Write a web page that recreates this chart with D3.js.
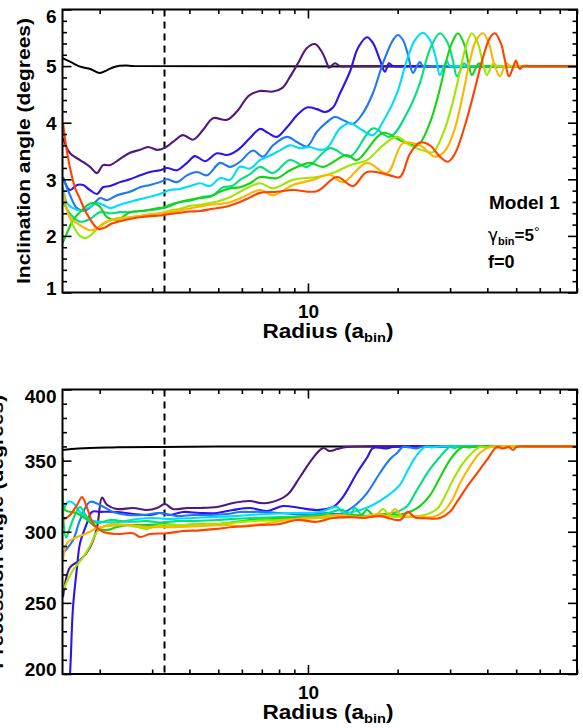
<!DOCTYPE html>
<html><head><meta charset="utf-8">
<script src="https://cdn.jsdelivr.net/npm/d3@7"></script>
<style>body{margin:0;background:#fff}svg{display:block}</style>
</head><body>
<script>
// ---------- DATA ----------
const seriesNames = ["black","purple","blue","dodger","cyan","spring","green","yellowgreen","orange","red"];
const seriesColors = ["#000000","#52167f","#2c14f0","#1f78f5","#00dcff","#00e07c","#14d414","#a0e600","#ffb400","#ff4200"];
const dashedRadius = 3.3;
const xMajorTicks = [10];
const xMinorTicks = [2,3,4,5,6,7,8,9,20,30,40,50,60,70,80];
const incMajorTicks = [1,2,3,4,5,6];
const precMajorTicks = [200,250,300,350,400];

// Inclination (degrees) vs radius (a_bin)
const incBlack = [[1.5,5.14],[1.59,5.08],[1.72,4.99],[1.86,4.95],[2.0,4.88],[2.12,4.93],[2.25,4.99],[2.45,5.01],[2.6,5.0],[80,5.0]];
const incPurple = [[1.506,3.73],[1.59,3.46],[1.718,3.34],[1.855,3.22],[1.959,3.11],[2.051,3.25],[2.165,3.25],[2.34,3.36],[2.527,3.47],[2.731,3.52],[2.905,3.57],[3.137,3.52],[3.338,3.57],[3.524,3.66],[3.807,3.78],[4.113,3.7],[4.444,3.87],[4.801,4.08],[5.349,4.05],[5.822,4.22],[6.145,4.4],[6.388,4.49],[6.902,4.56],[7.632,4.55],[8.183,4.61],[8.704,4.81],[9.256,5.05],[9.923,5.32],[10.56,5.39],[11.14,5.25],[11.58,5.05],[11.76,4.97],[12.32,5.05],[12.81,5.0],[14,5.0],[80,5.0]];
const incBlue = [[1.506,3.04],[1.59,2.81],[1.678,2.9],[1.758,2.9],[1.855,2.81],[1.959,2.74],[2.051,2.86],[2.165,2.88],[2.34,2.95],[2.527,3.0],[2.731,3.07],[2.95,3.13],[3.186,3.16],[3.364,3.2],[3.635,3.16],[3.926,3.29],[4.177,3.41],[4.513,3.32],[4.951,3.46],[5.349,3.43],[5.822,3.52],[6.388,3.73],[6.902,3.89],[7.343,3.82],[7.871,3.75],[8.505,3.92],[9.185,4.13],[9.923,4.27],[10.72,4.24],[11.40,4.19],[12.13,4.27],[12.81,4.52],[13.83,4.9],[14.72,5.32],[15.78,5.51],[16.52,5.41],[17.44,5.11],[18.13,4.9],[18.70,5.05],[19.29,5.0],[21,5.0],[80,5.0]];
const incDodger = [[1.506,3.02],[1.59,2.72],[1.678,2.49],[1.785,2.45],[1.899,2.55],[2.005,2.67],[2.115,2.63],[2.286,2.72],[2.527,2.78],[2.731,2.86],[2.95,2.9],[3.186,2.95],[3.364,3.0],[3.635,2.95],[3.926,3.07],[4.242,3.13],[4.584,3.07],[5.067,3.29],[5.474,3.22],[5.913,3.31],[6.538,3.51],[7.064,3.4],[7.632,3.6],[8.505,3.75],[9.185,3.66],[9.923,3.58],[10.72,3.84],[11.58,4.01],[12.32,4.1],[13.31,4.03],[14.16,3.98],[15.30,4.17],[16.52,4.52],[17.85,5.05],[19.29,5.46],[20.05,5.55],[20.84,5.46],[21.66,5.2],[22.51,4.88],[23.22,5.0],[23.76,5.07],[24.32,5.0],[26,5.0],[80,5.0]];
const incCyan = [[1.506,2.86],[1.553,2.58],[1.627,2.49],[1.718,2.45],[1.855,2.51],[1.959,2.58],[2.051,2.55],[2.165,2.49],[2.34,2.55],[2.527,2.6],[2.731,2.65],[2.95,2.69],[3.186,2.74],[3.443,2.81],[3.72,2.83],[4.018,2.88],[4.342,2.93],[4.691,2.88],[5.067,3.02],[5.474,2.99],[5.913,3.22],[6.388,3.19],[6.902,3.34],[7.457,3.42],[8.054,3.51],[8.704,3.6],[9.402,3.55],[10.15,3.57],[10.97,3.52],[11.58,3.55],[12.81,3.9],[13.83,3.99],[15.18,3.87],[16.52,3.78],[18.13,4.08],[19.90,4.52],[21.49,5.11],[22.86,5.46],[24.32,5.59],[25.67,5.46],[26.89,5.14],[27.73,4.84],[28.60,5.0],[29.27,5.09],[29.96,5.0],[32,5.0],[80,5.0]];
const incSpring = [[1.506,2.6],[1.615,2.35],[1.718,2.25],[1.855,2.3],[2.005,2.42],[2.165,2.4],[2.34,2.42],[2.527,2.42],[2.838,2.45],[3.186,2.48],[3.443,2.55],[3.72,2.6],[4.018,2.62],[4.444,2.69],[4.801,2.72],[5.186,2.86],[5.559,2.88],[5.913,2.99],[6.388,3.09],[6.902,3.22],[7.632,3.11],[8.704,3.34],[9.923,3.22],[11.85,3.55],[13.83,3.4],[16.52,3.9],[18.84,3.75],[21.99,4.27],[23.76,4.7],[25.67,5.3],[27.73,5.58],[29.50,5.4],[30.66,5.1],[31.62,4.82],[32.62,4.95],[33.38,5.05],[34.43,5.0],[37,5.0],[80,5.0]];
const incGreen = [[1.5,1.87],[1.553,2.05],[1.627,2.28],[1.718,2.42],[1.813,2.54],[1.899,2.58],[2.005,2.51],[2.115,2.33],[2.286,2.28],[2.527,2.42],[2.795,2.44],[3.113,2.49],[3.364,2.51],[3.635,2.58],[3.926,2.63],[4.342,2.67],[4.691,2.69],[5.067,2.78],[5.474,2.84],[5.913,2.86],[6.388,2.93],[6.902,3.04],[7.871,3.02],[8.704,3.16],[10.15,3.29],[11.23,3.22],[13.51,3.43],[14.60,3.34],[17.85,3.82],[20.36,3.69],[21.99,3.62],[23.39,3.6],[25.67,4.0],[27.73,4.6],[29.50,5.2],[30.66,5.45],[31.87,5.58],[33.38,5.4],[34.43,5.1],[35.51,4.84],[36.63,4.97],[37.48,5.05],[38.37,5.0],[41,5.0],[80,5.0]];
const incYellowGreen = [[1.506,2.75],[1.565,2.4],[1.640,2.15],[1.718,2.0],[1.785,1.96],[1.855,2.0],[1.959,2.12],[2.051,2.2],[2.165,2.27],[2.34,2.3],[2.527,2.33],[2.838,2.37],[3.186,2.4],[3.443,2.45],[3.72,2.48],[4.018,2.53],[4.342,2.55],[4.691,2.58],[5.067,2.62],[5.559,2.7],[5.913,2.78],[6.902,2.93],[7.632,2.84],[8.908,2.99],[10.72,3.04],[12.13,3.11],[13.83,3.25],[15.78,3.34],[17.85,3.6],[19.90,3.75],[21.99,3.6],[24.70,3.5],[26.27,3.48],[28.38,3.8],[30.42,4.3],[32.36,4.9],[33.90,5.35],[35.51,5.58],[37.20,5.4],[38.66,5.05],[39.87,4.84],[41.13,4.98],[42.10,5.05],[43.08,5.0],[46,5.0],[80,5.0]];
const incOrange = [[1.506,2.81],[1.590,2.33],[1.718,2.19],[1.855,2.1],[1.959,2.13],[2.051,2.22],[2.286,2.31],[2.527,2.33],[2.883,2.37],[3.186,2.4],[3.443,2.42],[3.807,2.46],[4.242,2.51],[4.691,2.55],[5.349,2.58],[5.913,2.66],[6.902,2.81],[7.632,2.72],[8.908,2.9],[10.39,2.99],[11.85,3.08],[13.10,2.95],[15.78,3.29],[18.41,3.11],[20.84,3.64],[23.76,3.6],[26.69,3.4],[28.82,3.5],[31.13,3.9],[33.12,4.5],[34.97,5.1],[36.63,5.45],[38.66,5.58],[40.50,5.4],[42.10,5.05],[44.10,4.82],[45.48,4.97],[46.55,5.05],[47.64,5.0],[50,5.0],[80,5.0]];
const incRed = [[1.506,4.0],[1.541,3.6],[1.590,3.2],[1.652,2.85],[1.718,2.65],[1.785,2.45],[1.855,2.3],[1.929,2.17],[1.989,2.12],[2.083,2.15],[2.199,2.22],[2.34,2.26],[2.527,2.3],[2.731,2.33],[2.95,2.35],[3.186,2.36],[3.364,2.38],[3.72,2.41],[4.018,2.43],[4.342,2.44],[4.801,2.48],[5.349,2.52],[5.913,2.6],[6.388,2.68],[6.902,2.76],[7.871,2.78],[8.908,2.81],[10.72,2.79],[12.51,3.04],[14.16,2.88],[15.78,3.13],[18.84,3.07],[20.36,3.04],[21.99,3.45],[23.76,3.65],[25.67,3.6],[27.73,3.4],[29.50,3.31],[31.13,3.45],[33.64,3.95],[36.34,4.6],[38.66,5.15],[40.81,5.5],[42.42,5.58],[44.44,5.4],[45.84,5.1],[47.27,4.82],[48.75,4.97],[49.89,5.1],[50.67,5.0],[51.45,4.95],[52.66,5.0],[56,5.0],[80,5.0]];

// Precession (degrees) vs radius (a_bin)
const precBlack = [[1.5,357.5],[1.7,358.6],[2.2,359.3],[3.0,359.6],[5.0,359.9],[80,360]];
const precPurple = [[1.506,254],[1.590,275],[1.718,280],[1.855,289],[1.959,303],[2.036,324],[2.115,319],[2.286,316],[2.587,316.7],[2.883,315.3],[3.113,316.7],[3.312,319.5],[3.524,316],[3.926,316.7],[4.342,316.7],[4.951,317.4],[5.602,320.2],[6.388,321.6],[6.902,320.2],[7.457,320.5],[8.505,325.8],[9.402,338.5],[10.39,351.8],[11.23,358.8],[11.85,356.8],[12.51,358.1],[13.31,359.5],[16,360],[80,360]];
const precBlue = [[1.506,150],[1.553,170],[1.590,200],[1.627,247],[1.678,275],[1.718,292],[1.813,306],[1.884,314],[2.005,314],[2.286,313.9],[2.587,312.5],[2.95,311.8],[3.186,313.2],[3.443,311.8],[3.807,313.9],[4.342,313.2],[4.951,313.2],[5.602,315.3],[6.388,316.7],[7.287,314.6],[8.245,318.1],[9.402,316.7],[10.72,315.3],[12.13,317.4],[13.10,324.4],[14.60,341.3],[15.78,352],[16.52,358.8],[17.44,359],[18.41,358.6],[19.29,359.6],[22,360],[80,360]];
const precDodger = [[1.506,285],[1.627,294],[1.718,308.3],[1.855,321],[2.005,318.8],[2.216,313.9],[2.470,311.8],[2.795,311.8],[3.186,313.2],[3.635,311],[4.113,311.8],[4.691,311.8],[5.349,312.5],[5.913,313.9],[6.388,313.9],[6.902,314],[8.054,313.2],[9.923,311.8],[11.58,313.2],[12.81,312.5],[14.16,317.4],[15.78,327.2],[17.44,341.3],[18.84,351],[19.90,355.4],[20.84,359.6],[21.99,359.2],[23.22,358.5],[24.13,359.8],[27,360],[80,360]];
const precCyan = [[1.506,313.9],[1.565,321],[1.627,320.3],[1.718,313.9],[1.855,308.3],[2.051,306.9],[2.34,306.9],[2.668,309],[3.019,309.7],[3.443,309],[4.113,309.7],[4.691,310.3],[5.602,311],[6.388,311.8],[7.287,312.5],[8.908,313.2],[10.97,313.9],[12.51,317.4],[13.10,313.5],[14.60,314.6],[16.52,318.8],[18.41,325],[20.36,333],[21.49,342],[22.86,352],[24.70,359.6],[26.07,359.3],[27.73,359.9],[31,360],[80,360]];
const precSpring = [[1.506,315],[1.541,296],[1.590,303],[1.652,312],[1.718,317.4],[1.813,310.3],[1.959,306.1],[2.165,308.3],[2.470,307],[2.883,307.5],[3.186,306.5],[3.635,307.5],[4.113,307.5],[4.951,308.3],[6.388,309.7],[8.054,310.3],[10.97,311.8],[13.10,315.3],[13.83,311.5],[14.38,316.7],[15.18,311.5],[16.52,311.8],[18.13,312.5],[19.59,313.5],[21.49,318],[23.22,329.4],[25.67,344],[27.73,352.6],[29.96,359.6],[31.13,358.8],[32.36,359.9],[35,360],[80,360]];
const precGreen = [[1.506,352],[1.529,315.3],[1.590,314],[1.678,313],[1.813,308.3],[1.959,302.6],[2.115,301.2],[2.286,303.3],[2.527,304.7],[2.883,304.7],[3.262,305.4],[3.72,304.7],[4.342,305.5],[5.067,305.5],[6.388,308.3],[7.632,309],[9.923,310.3],[12.13,311.8],[13.83,311.8],[15.18,312],[15.78,315.5],[16.52,311.8],[18.41,312.5],[20.36,312],[21.99,314],[23.76,318],[25.67,325.5],[27.73,338],[29.96,350.5],[31.62,356.5],[33.12,359.6],[34.97,359.2],[36.34,359.9],[40,360],[80,360]];
const precYellowGreen = [[1.506,259],[1.627,273],[1.758,282],[1.855,290],[1.959,300],[2.115,304.7],[2.286,305.5],[2.668,303.3],[2.883,302],[3.186,304.7],[3.807,304.7],[4.584,305.5],[5.349,306],[6.388,307.5],[8.054,308.3],[10.97,309.7],[13.83,310.3],[16.78,311],[17.85,316],[18.84,311],[20.36,310.5],[23.76,311],[27.10,316],[28.82,325],[30.66,336.3],[33.12,348],[35.79,356],[37.77,359.6],[39.87,359],[41.45,359.9],[45,360],[80,360]];
const precOrange = [[1.506,280],[1.553,292],[1.678,296.3],[1.813,299],[1.959,302.6],[2.165,304],[2.470,304.7],[2.883,303.3],[3.186,303.3],[3.72,303.3],[4.342,304],[5.349,304.7],[5.913,304],[7.287,306],[8.908,308.8],[10.97,310.3],[12.81,311.8],[14.95,310.3],[17.44,312.5],[18.56,311],[19.59,316],[20.68,311],[22.86,311],[26.27,310.3],[28.38,314],[30.42,322],[32.36,334],[34.97,346],[37.77,355.3],[40.81,359.6],[43.08,359],[45.13,359.9],[49,360],[80,360]];
const precRed = [[1.506,308.3],[1.590,311.8],[1.678,318.8],[1.744,324.4],[1.813,317],[1.899,306],[2.051,300],[2.286,298.4],[2.587,299],[2.731,296.3],[2.95,298.4],[3.364,299],[3.807,300.5],[4.342,301],[4.951,302],[5.602,303.3],[6.388,304],[6.902,304.7],[8.054,305.5],[9.185,308.3],[10.72,307],[12.13,309.7],[13.83,310.3],[15.30,309.7],[17.44,311],[20.36,308.3],[21.66,314],[22.86,310],[24.70,309.5],[27.73,309.6],[29.96,314],[31.87,322],[34.17,331.5],[36.92,341],[39.87,350.5],[43.08,359.6],[45.13,358.5],[47.27,359.5],[48.75,357.5],[50.27,359.8],[55,360],[80,360]];

const incSeries = [incBlack,incPurple,incBlue,incDodger,incCyan,incSpring,incGreen,incYellowGreen,incOrange,incRed];
const precSeries = [precBlack,precPurple,precBlue,precDodger,precCyan,precSpring,precGreen,precYellowGreen,precOrange,precRed];

// ---------- DRAW ----------
const W = 583, H = 728;
const FONT = "'Liberation Sans', Arial, Helvetica, sans-serif";
const svg = d3.select("body").append("svg").attr("width", W).attr("height", H)
  .style("font-family", FONT);

const L = 62.5, R = 577;
const x = d3.scaleLog().domain([1.5, 80]).range([L, R]);

function drawPanel(opt) {
  const {top, bottom, domain, majors, minorStep, series, ylabel, ylabelX, ylabelLen, id} = opt;
  const y = d3.scaleLinear().domain(domain).range([bottom, top]);
  const g = svg.append("g");
  const minors = d3.range(domain[0], domain[1] + 1e-9, minorStep).filter(v => !majors.some(m => Math.abs(m - v) < 1e-9));

  g.append("clipPath").attr("id", id).append("rect")
    .attr("x", L).attr("y", top).attr("width", R - L).attr("height", bottom - top);

  const lines = g.append("g").attr("clip-path", `url(#${id})`);
  lines.append("line")
    .attr("x1", x(dashedRadius)).attr("x2", x(dashedRadius))
    .attr("y1", top).attr("y2", bottom)
    .attr("stroke", "#000").attr("stroke-width", 2).attr("stroke-dasharray", "7,5");

  const line = d3.line().x(d => x(d[0])).y(d => y(d[1])).curve(d3.curveCatmullRom.alpha(0.5));
  series.forEach((s, i) => {
    lines.append("path").datum(s).attr("d", line)
      .attr("fill", "none").attr("stroke", seriesColors[i])
      .attr("stroke-width", i === 0 ? 2 : 2.1).attr("stroke-linejoin", "round");
  });

  const tickStyle = sel => { sel.select(".domain").remove(); sel.selectAll("line").attr("stroke", "#000").attr("stroke-width", 1.6); };
  const labelStyle = sel => sel.attr("font-size", 19).attr("font-weight", "bold").attr("fill", "#000").attr("font-family", FONT);

  g.append("g").attr("transform", `translate(0,${bottom})`)
    .call(d3.axisBottom(x).tickValues(xMinorTicks).tickSize(-4.5).tickFormat("")).call(tickStyle);
  g.append("g").attr("transform", `translate(0,${bottom})`)
    .call(d3.axisBottom(x).tickValues(xMajorTicks).tickSize(-9).tickPadding(12).tickFormat(d3.format("d")))
    .call(tickStyle)
    .selectAll("text").call(labelStyle);
  g.append("g").attr("transform", `translate(0,${top})`)
    .call(d3.axisTop(x).tickValues(xMinorTicks).tickSize(-4.5).tickFormat("")).call(tickStyle);
  g.append("g").attr("transform", `translate(0,${top})`)
    .call(d3.axisTop(x).tickValues(xMajorTicks).tickSize(-9).tickFormat("")).call(tickStyle);

  g.append("g").attr("transform", `translate(${L},0)`)
    .call(d3.axisLeft(y).tickValues(minors).tickSize(-4.5).tickFormat("")).call(tickStyle);
  const yl = g.append("g").attr("transform", `translate(${L},0)`)
    .call(d3.axisLeft(y).tickValues(majors).tickSize(-9).tickPadding(6).tickFormat(d3.format("d")))
    .call(tickStyle);
  yl.selectAll("text").call(labelStyle)
    .attr("dy", d => d === domain[1] ? "0.68em" : d === domain[0] ? "0.1em" : "0.36em");
  g.append("g").attr("transform", `translate(${R},0)`)
    .call(d3.axisRight(y).tickValues(minors).tickSize(-4.5).tickFormat("")).call(tickStyle);
  g.append("g").attr("transform", `translate(${R},0)`)
    .call(d3.axisRight(y).tickValues(majors).tickSize(-9).tickFormat("")).call(tickStyle);

  g.append("rect").attr("x", L).attr("y", top).attr("width", R - L).attr("height", bottom - top)
    .attr("fill", "none").attr("stroke", "#000").attr("stroke-width", 2);

  const xt = g.append("text").attr("x", 328).attr("y", bottom + 45)
    .attr("text-anchor", "middle").attr("font-size", 20).attr("font-weight", "bold")
    .attr("textLength", 131).attr("lengthAdjust", "spacingAndGlyphs");
  xt.append("tspan").text("Radius (a");
  xt.append("tspan").attr("font-size", 13).attr("dy", 4).text("bin");
  xt.append("tspan").attr("dy", -4).text(")");

  g.append("text").attr("transform", `translate(${ylabelX},${(top + bottom) / 2}) rotate(-90)`)
    .attr("text-anchor", "middle").attr("font-size", 19).attr("font-weight", "bold")
    .attr("textLength", ylabelLen).attr("lengthAdjust", "spacingAndGlyphs").text(ylabel);
  return y;
}

drawPanel({top: 9.5, bottom: 292.5, domain: [1, 6], majors: incMajorTicks, minorStep: 0.2,
  series: incSeries, ylabel: "Inclination angle (degrees)", ylabelX: 30, ylabelLen: 266, id: "clipTop"});
drawPanel({top: 389.5, bottom: 674, domain: [200, 400], majors: precMajorTicks, minorStep: 10,
  series: precSeries, ylabel: "Precession angle (degrees)", ylabelX: 3, ylabelLen: 274, id: "clipBot"});

const ann = svg.append("g").attr("font-weight", "bold");
ann.append("text").attr("x", 489).attr("y", 209).attr("font-size", 19).text("Model 1");
const gt = ann.append("text").attr("x", 488).attr("y", 241).attr("font-size", 17);
gt.append("tspan").attr("font-weight", "normal").attr("font-family", "'DejaVu Sans', sans-serif").text("γ");
gt.append("tspan").attr("font-size", 11).attr("dy", 4).text("bin");
gt.append("tspan").attr("dy", -4).text("=5");
gt.append("tspan").attr("font-weight", "normal").attr("font-size", 14).attr("dy", -4).text("°");
ann.append("text").attr("x", 488).attr("y", 268).attr("font-size", 18).text("f=0");
</script>
</body></html>
